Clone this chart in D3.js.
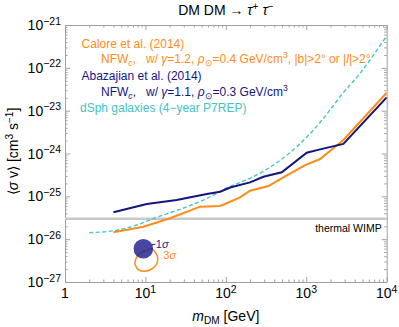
<!DOCTYPE html>
<html>
<head>
<meta charset="utf-8">
<script src="https://cdn.jsdelivr.net/npm/d3@7"></script>
<style>
  body { margin: 0; background: #fff; }
  svg { font-family: "Liberation Sans", Arial, sans-serif; }
  text { white-space: pre; }
</style>
</head>
<body>
<svg id="chart" width="399" height="327"></svg>
<script>
// Calore et al. (2014)
let massCalore = [4, 9.4, 20.2, 47.8, 84.7, 113, 150, 200, 338, 519, 966, 1485, 2893, 10000]
let sigvCalore = [1.45e-26, 1.95e-26, 3.07e-26, 5.73e-26, 5.94e-26, 7.49e-26, 9.5e-26, 1.35e-25, 1.74e-25, 2.78e-25, 5.38e-25, 7.43e-25, 2.07e-24, 2.62e-23]

// Abazajian et al. (2014)
let massAbazajian = [4, 10.4, 24.5, 58, 85, 113, 200, 293, 496, 1014, 1485, 2893, 10000]
let sigvAbazajian = [4.24e-26, 6.6e-26, 8.2e-26, 1.13e-25, 1.28e-25, 1.61e-25, 2.12e-25, 2.87e-25, 3.64e-25, 1.04e-24, 1.25e-24, 1.67e-24, 2.05e-23]

// dSph galaxies (4-year P7REP)
let massDsph = [2, 4, 7.8, 13.8, 26.9, 52.5, 107, 200, 390, 762, 1225, 1977, 2630, 4667, 9550]
let sigvDsph = [1.42e-26, 1.57e-26, 2.14e-26, 3.24e-26, 4.98e-26, 8.2e-26, 1.63e-25, 2.64e-25, 5.38e-25, 1.44e-24, 3.53e-24, 1.04e-23, 2.12e-23, 7.45e-23, 4.9e-22]

// GC excess fit contours
let contourMass = [7.57, 7.42, 8.16, 9.6, 12.0, 13.8, 14.1, 12.1, 10.2, 8.32]
let contourSigv = [3.31e-27, 2.63e-27, 1.94e-27, 1.78e-27, 2.01e-27, 2.63e-27, 3.98e-27, 5.89e-27, 5.43e-27, 4.5e-27]
let bestFit = [9.42, 5.96e-27]

let thermalWimp = 3e-26

let xMajor = [1, 10, 100, 1000, 10000]
let xLabels = [['1', ''], ['10', '1'], ['10', '2'], ['10', '3'], ['10', '4']]
let yMajor = [1e-27, 1e-26, 1e-25, 1e-24, 1e-23, 1e-22, 1e-21]
let yLabels = ['−27', '−26', '−25', '−24', '−23', '−22', '−21']

let mLeft = 65, mRight = 386.7, mTop = 25, mBottom = 282

let svg = d3.select('#chart')

let x = d3.scaleLog().domain([1, 1e4]).range([mLeft, mRight])
let y = d3.scaleLog().domain([1e-27, 1e-21]).range([mBottom, mTop])

let minors = (majors) => {
	let out = []
	majors.slice(0, -1).forEach(m => {
		for (let k = 2; k <= 9; k++) out.push(m * k)
	})
	return out
}

let grey = '#a0a0a0'

let axes = [
	[d3.axisBottom(x), `translate(0,${mBottom})`, xMajor],
	[d3.axisTop(x), `translate(0,${mTop})`, xMajor],
	[d3.axisLeft(y), `translate(${mLeft},0)`, yMajor],
	[d3.axisRight(y), `translate(${mRight},0)`, yMajor]
]

axes.forEach(([ax, tr, majors]) => {
	svg.append('g')
		.attr('transform', tr)
		.call(ax.tickValues(majors).tickSize(-5).tickSizeOuter(0).tickFormat(''))
		.call(g => g.selectAll('path, line').attr('stroke', grey))
	svg.append('g')
		.attr('transform', tr)
		.call(ax.tickValues(minors(majors)).tickSize(-2.5).tickSizeOuter(0).tickFormat(''))
		.call(g => g.select('.domain').remove())
		.call(g => g.selectAll('line').attr('stroke', grey))
})

// tick labels
xMajor.forEach((v, i) => {
	let t = svg.append('text')
		.attr('x', x(v))
		.attr('y', mBottom + 16)
		.attr('text-anchor', 'middle')
		.attr('font-size', 14)
	t.append('tspan').text(xLabels[i][0])
	if (xLabels[i][1]) t.append('tspan').attr('dy', -5).attr('font-size', 10.5).text(xLabels[i][1])
})

yMajor.forEach((v, i) => {
	let t = svg.append('text')
		.attr('x', mLeft - 4)
		.attr('y', y(v) + 5)
		.attr('text-anchor', 'end')
		.attr('font-size', 14)
	t.append('tspan').text('10')
	t.append('tspan').attr('dy', -5.5).attr('font-size', 10.5).text(yLabels[i])
})

// rich text helper: segments of [text, opts]
let rich = (sel, segs) => {
	let shift = 0
	segs.forEach(([txt, o]) => {
		o = o || {}
		let want = o.sub ? 3 : (o.sup ? -5 : 0)
		let ts = sel.append('tspan').text(txt)
		if (want !== shift) ts.attr('dy', want - shift)
		shift = want
		if (o.sub || o.sup) ts.attr('font-size', o.size || '0.72em')
		if (o.it) ts.attr('font-style', 'italic')
	})
	return sel
}

// title
rich(svg.append('text')
	.attr('x', (mLeft + mRight) / 2)
	.attr('y', 15)
	.attr('text-anchor', 'middle')
	.attr('font-size', 14), [
	['DM DM → '], ['τ', {it: true}], ['+', {sup: true}], [' '], ['τ', {it: true}], ['−', {sup: true}]
])

// axis titles
rich(svg.append('text')
	.attr('x', (mLeft + mRight) / 2)
	.attr('y', 321)
	.attr('text-anchor', 'middle')
	.attr('font-size', 14), [
	['m', {it: true}], ['DM', {sub: true}], [' [GeV]']
])

rich(svg.append('text')
	.attr('transform', `translate(18,${(mTop + mBottom) / 2 - 2}) rotate(-90)`)
	.attr('text-anchor', 'middle')
	.attr('font-size', 14), [
	['⟨'], ['σ', {it: true}], [' v⟩ [cm'], ['3', {sup: true}], [' s'], ['−1', {sup: true}], [']']
])

svg.append('clipPath').attr('id', 'plot-clip')
	.append('rect')
	.attr('x', mLeft).attr('y', mTop)
	.attr('width', mRight - mLeft).attr('height', mBottom - mTop)

let plot = svg.append('g').attr('clip-path', 'url(#plot-clip)')

// thermal WIMP
plot.append('line')
	.attr('x1', mLeft).attr('x2', mRight)
	.attr('y1', y(thermalWimp)).attr('y2', y(thermalWimp))
	.attr('stroke', '#c8c8c8')
	.attr('stroke-width', 2.5)

svg.append('text')
	.attr('x', mRight - 5)
	.attr('y', y(thermalWimp) + 13)
	.attr('text-anchor', 'end')
	.attr('font-size', 10.5)
	.text('thermal WIMP')

let line = d3.line().x(d => x(d[0])).y(d => y(d[1]))

plot.append('path')
	.datum(d3.zip(massDsph, sigvDsph))
	.attr('d', line.curve(d3.curveMonotoneX))
	.attr('fill', 'none')
	.attr('stroke', '#45c3c6')
	.attr('stroke-width', 1.4)
	.attr('stroke-dasharray', '4,2.5')

line.curve(d3.curveLinear)

plot.append('path')
	.datum(d3.zip(massCalore, sigvCalore))
	.attr('d', line)
	.attr('fill', 'none')
	.attr('stroke', '#ff8c1a')
	.attr('stroke-width', 2)

plot.append('path')
	.datum(d3.zip(massAbazajian, sigvAbazajian))
	.attr('d', line)
	.attr('fill', 'none')
	.attr('stroke', '#15157f')
	.attr('stroke-width', 2)

// contours
plot.append('path')
	.datum(d3.zip(contourMass, contourSigv))
	.attr('d', d3.line().x(d => x(d[0])).y(d => y(d[1])).curve(d3.curveCardinalClosed))
	.attr('fill', 'none')
	.attr('stroke', '#ff8c1a')
	.attr('stroke-width', 1.5)

plot.append('circle')
	.attr('cx', x(bestFit[0]))
	.attr('cy', y(bestFit[1]))
	.attr('r', 9.8)
	.attr('fill', '#1e1e8c')
	.attr('fill-opacity', 0.82)

let bx = x(bestFit[0]), by = y(bestFit[1])
svg.append('line')
	.attr('x1', bx + 8.5).attr('x2', bx + 12)
	.attr('y1', by - 4).attr('y2', by - 4.5)
	.attr('stroke', '#1e1e8c').attr('stroke-width', 1)
rich(svg.append('text')
	.attr('x', bx + 12.5).attr('y', by - 1)
	.attr('font-size', 11)
	.attr('fill', '#1e1e8c'), [['1'], ['σ', {it: true}]])
rich(svg.append('text')
	.attr('x', bx + 20).attr('y', by + 10)
	.attr('font-size', 11)
	.attr('fill', '#ff8c1a'), [['3'], ['σ', {it: true}]])

// legend text
let legend = [
	[81.5, 48, '#ff8c1a', [['Calore et al. (2014)']]],
	[101, 63, '#ff8c1a', [['NFW'], ['c', {sub: true, it: true}], [',   w/ '], ['γ', {it: true}], ['=1.2, '], ['ρ', {it: true}], ['⊙', {sub: true}], ['=0.4 GeV/cm'], ['3', {sup: true}], [', |b|>2° or |'], ['l', {it: true}], ['|>2°']]],
	[81.5, 80, '#15157f', [['Abazajian et al. (2014)']]],
	[101, 95.5, '#15157f', [['NFW'], ['c', {sub: true, it: true}], [',   w/ '], ['γ', {it: true}], ['=1.1, '], ['ρ', {it: true}], ['⊙', {sub: true}], ['=0.3 GeV/cm'], ['3', {sup: true}]]],
	[80, 112, '#45c3c6', [['dSph galaxies (4−year P7REP)']]]
]

legend.forEach(([lx, ly, col, segs]) => {
	rich(svg.append('text')
		.attr('x', lx).attr('y', ly)
		.attr('font-size', 12)
		.attr('fill', col), segs)
})
</script>
</body>
</html>
